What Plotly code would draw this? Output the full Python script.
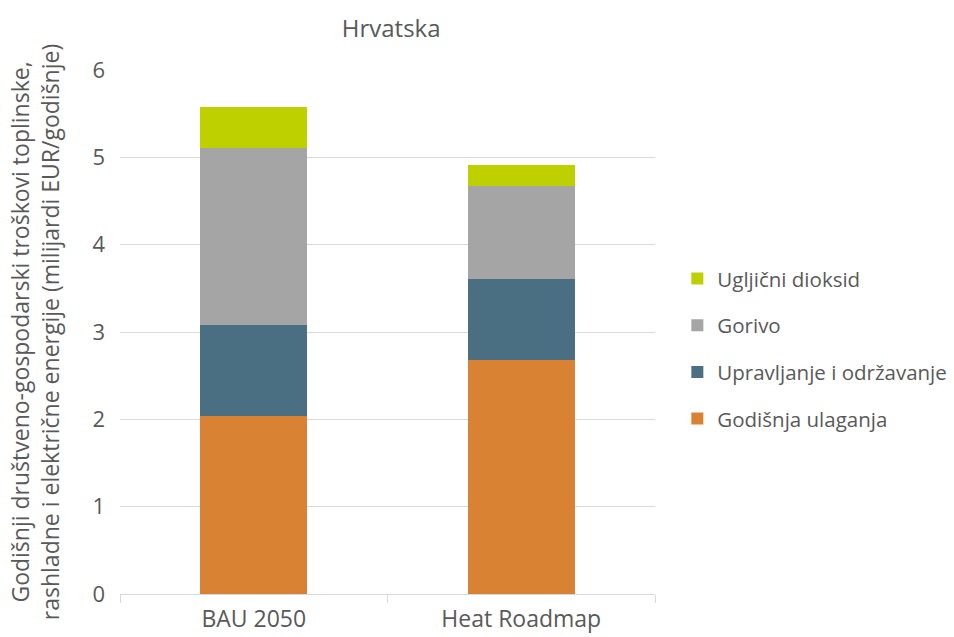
import plotly.graph_objects as go

categories = ["BAU 2050", "Heat Roadmap"]
godisnja_ulaganja = [2.04, 2.68]
upravljanje = [1.04, 0.93]
gorivo = [2.03, 1.06]
ugljicni = [0.47, 0.24]

series = [
    ("Godišnja ulaganja", godisnja_ulaganja, "#D98234", 4),
    ("Upravljanje i održavanje", upravljanje, "#4A6F83", 3),
    ("Gorivo", gorivo, "#A5A5A5", 2),
    ("Ugljični dioksid", ugljicni, "#BFD000", 1),
]

fig = go.Figure()
for name, vals, col, rank in series:
    fig.add_trace(go.Bar(x=categories, y=vals, name=name, marker_color=col,
                         marker_line_width=0, legendgroup=name, legendrank=rank,
                         width=0.4))

font = "Open Sans, Liberation Sans, sans-serif"
fig.update_layout(
    barmode="stack",
    width=954, height=637,
    margin=dict(l=120, r=299, t=70, b=43, autoexpand=False),
    plot_bgcolor="white", paper_bgcolor="white",
    font=dict(family=font, color="#595959", size=22),
    title=dict(text="Hrvatska", x=0.41, xanchor="center", y=0.955, yanchor="middle",
               font=dict(size=24, color="#595959")),
    legend=dict(traceorder="grouped", tracegroupgap=17, xref="container", x=0.710,
                xanchor="left", yref="paper", y=0.468, yanchor="middle",
                font=dict(size=20.5, color="#595959"), itemwidth=30),
    bargap=0.6,
)
fig.update_yaxes(range=[0, 6], dtick=1, showgrid=True, gridcolor="#D9D9D9", gridwidth=1,
                 zeroline=False, showline=False, ticks="", tickfont=dict(size=22),
                 ticklabelstandoff=14, automargin=False,
                 title=dict(text="Godišnji društveno-gospodarski troškovi toplinske,<br>rashladne i električne energije (milijardi EUR/godišnje)",
                            font=dict(size=23, color="#595959"), standoff=26))
fig.update_xaxes(showline=True, linecolor="#D9D9D9", linewidth=1, ticks="outside",
                 tickson="boundaries", tickcolor="#D9D9D9", ticklen=8,
                 ticklabelstandoff=4, tickfont=dict(size=23), automargin=False)
fig.write_html("out.html")
